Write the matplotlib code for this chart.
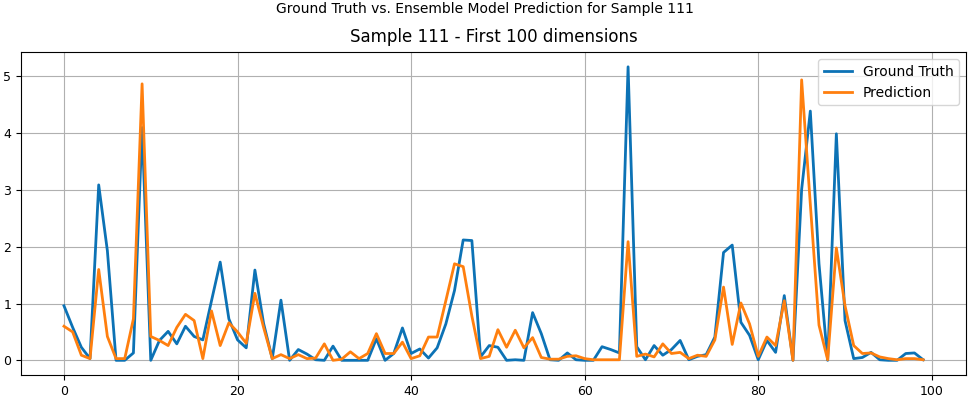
import matplotlib
matplotlib.use("Agg")
import matplotlib.pyplot as plt
import numpy as np

dims = list(range(100))

ground_truth = [
    0.96, 0.58, 0.23, 0.03, 3.09, 1.93, 0.0, 0.0, 0.13, 4.1,
    0.0, 0.35, 0.51, 0.29, 0.6, 0.42, 0.36, 1.05, 1.73, 0.73,
    0.36, 0.22, 1.59, 0.65, 0.03, 1.06, 0.0, 0.19, 0.11, 0.01,
    0.0, 0.25, 0.0, 0.0, 0.0, 0.0, 0.38, 0.0, 0.12, 0.57,
    0.12, 0.2, 0.04, 0.22, 0.64, 1.23, 2.12, 2.11, 0.06, 0.26,
    0.23, 0.0, 0.01, 0.0, 0.84, 0.47, 0.01, 0.0, 0.13, 0.01,
    0.0, 0.0, 0.24, 0.19, 0.13, 5.17, 0.24, 0.01, 0.26, 0.09,
    0.19, 0.35, 0.01, 0.07, 0.1, 0.41, 1.9, 2.03, 0.67, 0.44,
    0.01, 0.35, 0.14, 1.14, 0.0, 3.01, 4.39, 1.7, 0.0, 3.99,
    0.7, 0.03, 0.05, 0.14, 0.01, 0.0, 0.0, 0.12, 0.13, 0.01,
]

prediction = [
    0.6, 0.5, 0.09, 0.03, 1.6, 0.42, 0.03, 0.03, 0.73, 4.87,
    0.42, 0.35, 0.26, 0.58, 0.81, 0.7, 0.03, 0.87, 0.26, 0.66,
    0.5, 0.3, 1.18, 0.58, 0.03, 0.1, 0.03, 0.1, 0.03, 0.04,
    0.29, 0.0, 0.02, 0.15, 0.03, 0.12, 0.47, 0.12, 0.12, 0.32,
    0.03, 0.08, 0.41, 0.41, 1.05, 1.7, 1.65, 0.78, 0.03, 0.07,
    0.54, 0.23, 0.53, 0.22, 0.4, 0.05, 0.02, 0.02, 0.07, 0.08,
    0.03, 0.01, 0.01, 0.01, 0.01, 2.09, 0.07, 0.11, 0.06, 0.29,
    0.12, 0.14, 0.03, 0.09, 0.07, 0.36, 1.29, 0.28, 1.01, 0.64,
    0.07, 0.41, 0.26, 1.05, 0.0, 4.94, 2.75, 0.62, 0.01, 1.98,
    0.96, 0.26, 0.12, 0.13, 0.06, 0.03, 0.01, 0.03, 0.03, 0.01,
]

suptitle = "Ground Truth vs. Ensemble Model Prediction for Sample 111"
title = "Sample 111 - First 100 dimensions"

fig = plt.figure(figsize=(9.69, 3.98), dpi=100)
ax = fig.add_axes([0.0217, 0.0578, 0.9753, 0.8112])
ax.plot(dims, ground_truth, color="#0c72b5", lw=2.0, label="Ground Truth")
ax.plot(dims, prediction, color="#ff7f0e", lw=2.0, label="Prediction")
ax.grid(True, color="#b0b0b0", lw=0.8)
ax.set_xticks([0, 20, 40, 60, 80, 100])
ax.set_yticks([0, 1, 2, 3, 4, 5])
ax.tick_params(labelsize=9)
ax.set_title(title, fontsize=12, pad=7)
ax.legend(loc="upper right", fontsize=10)
fig.suptitle(suptitle, fontsize=10, y=0.995)
fig.savefig("out.png", dpi=100)
